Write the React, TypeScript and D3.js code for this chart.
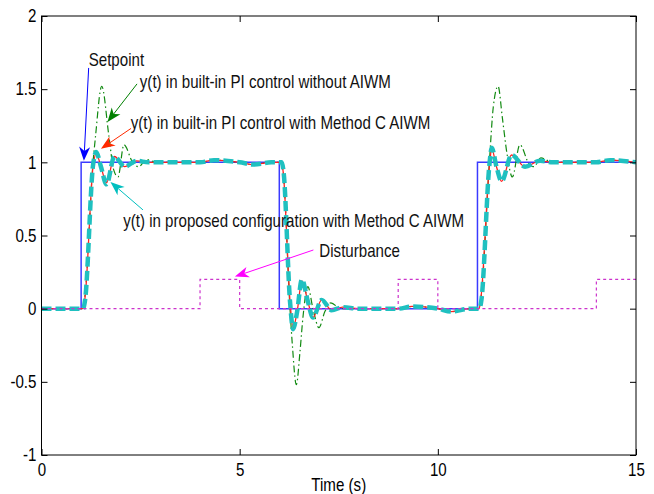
import { useEffect, useRef } from 'react'
import * as d3 from 'd3'

type Pt = [number, number]

// axis ticks
const xTicks = [0, 5, 10, 15]
const yTicks = [-1, -0.5, 0, 0.5, 1, 1.5, 2]
const yTickLabels = ['-1', '-0.5', '0', '0.5', '1', '1.5', '2']
const xLabel = 'Time (s)'

// reference and disturbance (step signals)
const setpoint: Pt[] = [[0, 0], [1, 0], [1, 1], [6, 1], [6, 0], [11, 0], [11, 1], [15, 1]]
const disturbance: Pt[] = [
  [0, 0], [4, 0], [4, 0.2], [5, 0.2], [5, 0], [9, 0], [9, 0.2], [10, 0.2], [10, 0],
  [14, 0], [14, 0.2], [15, 0.2],
]

// y(t), built-in PI without anti-windup
const yNoAiwm: Pt[] = [
  [0, 0], [1.04, 0], [1.1, 0.1], [1.3, 1.0], [1.36, 1.17], [1.52, 1.52], [1.7, 1.18], [1.82, 0.95],
  [1.93, 0.9], [2.08, 1.12], [2.3, 1.0], [2.45, 0.97], [2.65, 1.02], [2.9, 1.0], [4.0, 1.0],
  [4.35, 1.015], [5.0, 1.0], [5.35, 0.985], [5.8, 1.0], [6.04, 1.0], [6.1, 0.93], [6.27, 0.0],
  [6.33, -0.25], [6.43, -0.52], [6.52, -0.3], [6.6, -0.05], [6.72, 0.15], [6.85, 0.0], [7.0, -0.13],
  [7.15, -0.02], [7.3, 0.04], [7.55, 0.0], [8.0, 0], [9.0, 0], [9.35, 0.015], [10.0, 0],
  [10.35, -0.02], [10.8, 0], [11.04, 0], [11.1, 0.1], [11.3, 1.0], [11.4, 1.38], [11.52, 1.52],
  [11.63, 1.3], [11.75, 1.05], [11.88, 0.9], [12.07, 1.12], [12.3, 0.99], [12.42, 0.97],
  [12.6, 1.03], [12.9, 1.0], [14.0, 1.0], [14.35, 1.015], [15, 1.0],
]

// y(t), built-in PI with Method C AIWM
const yMethodC: Pt[] = [
  [0, 0], [1.05, 0], [1.1, 0.08], [1.3, 0.97], [1.38, 1.06], [1.5, 0.97], [1.64, 0.86], [1.84, 1.04],
  [2.1, 0.97], [2.4, 1.01], [2.7, 1.0], [4.0, 1.0], [4.35, 1.015], [5.0, 1.0], [5.35, 0.985],
  [5.8, 1.0], [6.05, 1.0], [6.1, 0.93], [6.27, 0.05], [6.35, -0.13], [6.45, -0.02], [6.57, 0.19],
  [6.72, 0.05], [6.85, -0.06], [7.07, 0.06], [7.32, -0.01], [7.6, 0.01], [8.0, 0], [9.0, 0],
  [9.35, 0.015], [10.0, 0], [10.35, -0.02], [10.8, 0], [11.04, 0], [11.09, 0.08], [11.3, 0.97],
  [11.36, 1.09], [11.48, 0.97], [11.61, 0.87], [11.86, 1.05], [12.2, 0.97], [12.58, 1.01],
  [12.9, 1.0], [14.0, 1.0], [14.35, 1.015], [15, 1.0],
]

// y(t), proposed configuration with Method C AIWM
const yProposed: Pt[] = [
  [0, 0], [1.05, 0], [1.1, 0.06], [1.3, 0.98], [1.38, 1.07], [1.5, 0.97], [1.64, 0.85], [1.84, 1.04],
  [2.1, 0.97], [2.4, 1.01], [2.7, 1.0], [4.0, 1.0], [4.35, 1.015], [5.0, 1.0], [5.35, 0.985],
  [5.8, 1.0], [6.06, 1.0], [6.11, 0.93], [6.27, 0.05], [6.35, -0.14], [6.45, -0.02], [6.57, 0.2],
  [6.72, 0.05], [6.85, -0.06], [7.07, 0.06], [7.32, -0.01], [7.6, 0.01], [8.0, 0], [9.0, 0],
  [9.35, 0.015], [10.0, 0], [10.35, -0.02], [10.8, 0], [11.05, 0], [11.1, 0.06], [11.3, 0.98],
  [11.36, 1.1], [11.48, 0.97], [11.61, 0.87], [11.86, 1.05], [12.2, 0.97], [12.58, 1.01],
  [12.9, 1.0], [14.0, 1.0], [14.35, 1.015], [15, 1.0],
]

// annotation text, anchored in data units; arrow from -> to
const annotations = [
  { text: 'Setpoint', color: '#0000ff', at: [1.19, 1.655], from: [1.19, 1.645], to: [1.07, 1.01] },
  { text: 'y(t) in built-in PI control without AIWM', color: '#008000', at: [2.48, 1.51], from: [2.41, 1.536], to: [1.665, 1.276] },
  { text: 'y(t) in built-in PI control with Method C AIWM', color: '#ff2a00', at: [2.25, 1.23], from: [2.26, 1.232], to: [1.5, 1.092] },
  { text: 'y(t) in proposed configuration with Method C AIWM', color: '#00bfbf', at: [2.06, 0.558], from: [2.56, 0.675], to: [1.74, 0.866] },
  { text: 'Disturbance', color: '#ff00ff', at: [7.01, 0.35], from: [6.86, 0.401], to: [4.88, 0.219] },
]

const FONT = '"Liberation Sans", Arial, sans-serif'
const SX = 0.84

const App = () => {
  const svgRef = useRef<SVGSVGElement | null>(null)

  useEffect(() => {
    if (!svgRef.current) return
    const svg = d3.select(svgRef.current)
    svg.selectAll('*').remove()

    const left = 41.5
    const right = 636
    const top = 16
    const bottom = 455

    const x = d3.scaleLinear().domain([0, 15]).range([left, right])
    const y = d3.scaleLinear().domain([-1, 2]).range([bottom, top])

    svg.append('rect').attr('width', 654).attr('height', 494).attr('fill', '#fff')

    svg.append('clipPath').attr('id', 'plot-clip')
      .append('rect')
      .attr('x', left).attr('y', top)
      .attr('width', right - left).attr('height', bottom - top)

    const straight = d3.line<Pt>().x((d) => x(d[0])).y((d) => y(d[1]))
    const smooth = d3.line<Pt>().x((d) => x(d[0])).y((d) => y(d[1])).curve(d3.curveMonotoneX)

    const plot = svg.append('g').attr('clip-path', 'url(#plot-clip)')

    plot.append('path').datum(setpoint)
      .attr('d', straight).attr('fill', 'none')
      .attr('stroke', '#3a3aff').attr('stroke-width', 1.5)

    plot.append('path').datum(yNoAiwm)
      .attr('d', smooth).attr('fill', 'none')
      .attr('stroke', '#118a11').attr('stroke-width', 1.2)
      .attr('stroke-dasharray', '7,3,1.5,3')

    plot.append('path').datum(yMethodC)
      .attr('d', smooth).attr('fill', 'none')
      .attr('stroke', '#ff2020').attr('stroke-width', 1.3)

    plot.append('path').datum(yProposed)
      .attr('d', smooth).attr('fill', 'none')
      .attr('stroke', '#1fc0c0').attr('stroke-width', 4.5)
      .attr('stroke-dasharray', '10,4')

    plot.append('path').datum(disturbance)
      .attr('d', straight).attr('fill', 'none')
      .attr('stroke', '#cc33cc').attr('stroke-width', 1.2)
      .attr('stroke-dasharray', '3,3')

    // axes, ticks pointing inward on all four sides
    const styleAxis = (g: d3.Selection<SVGGElement, unknown, null, undefined>) => {
      g.select('.domain').remove()
      g.selectAll('line').attr('stroke', '#000')
      g.selectAll('text')
        .attr('font-family', FONT).attr('font-size', 18).attr('fill', '#000')
        .attr('transform', `scale(${SX},1)`)
    }

    svg.append('g').attr('transform', `translate(0,${bottom})`)
      .call(d3.axisBottom(x).tickValues(xTicks).tickSize(-6).tickPadding(8).tickFormat(d3.format('d')))
      .call(styleAxis)
    svg.append('g').attr('transform', `translate(0,${top})`)
      .call(d3.axisTop(x).tickValues(xTicks).tickSize(-6).tickFormat(() => ''))
      .call(styleAxis)
    svg.append('g').attr('transform', `translate(${left},0)`)
      .call(d3.axisLeft(y).tickValues(yTicks).tickSize(-6).tickPadding(6)
        .tickFormat((_, i) => yTickLabels[i]))
      .call(styleAxis)
    svg.append('g').attr('transform', `translate(${right},0)`)
      .call(d3.axisRight(y).tickValues(yTicks).tickSize(-6).tickFormat(() => ''))
      .call(styleAxis)

    svg.append('rect')
      .attr('x', left).attr('y', top)
      .attr('width', right - left).attr('height', bottom - top)
      .attr('fill', 'none').attr('stroke', '#000').attr('stroke-width', 1)

    svg.append('text')
      .attr('transform', `translate(${(left + right) / 2},491) scale(${SX},1)`)
      .attr('text-anchor', 'middle')
      .attr('font-family', FONT).attr('font-size', 18).attr('fill', '#000')
      .text(xLabel)

    // annotations with filled arrow heads
    annotations.forEach((a) => {
      const x1 = x(a.from[0]), y1 = y(a.from[1])
      const x2 = x(a.to[0]), y2 = y(a.to[1])
      const len = Math.hypot(x2 - x1, y2 - y1)
      const ux = (x2 - x1) / len, uy = (y2 - y1) / len
      const nx = -uy, ny = ux
      const L = 14, Wd = 5.5, notch = 4
      const bx = x2 - ux * L, by = y2 - uy * L

      svg.append('line')
        .attr('x1', x1).attr('y1', y1)
        .attr('x2', x2 - ux * (L - notch)).attr('y2', y2 - uy * (L - notch))
        .attr('stroke', a.color).attr('stroke-width', 1)

      svg.append('path')
        .attr('d', `M${x2},${y2}L${bx + nx * Wd},${by + ny * Wd}L${x2 - ux * (L - notch)},${y2 - uy * (L - notch)}L${bx - nx * Wd},${by - ny * Wd}Z`)
        .attr('fill', a.color)

      svg.append('text')
        .attr('transform', `translate(${x(a.at[0])},${y(a.at[1])}) scale(${SX},1)`)
        .attr('font-family', FONT).attr('font-size', 18).attr('fill', '#111')
        .text(a.text)
    })
  }, [])

  return (
    <svg
      ref={svgRef}
      width={654}
      height={494}
      style={{ position: 'absolute', left: 0, top: 0, display: 'block' }}
    />
  )
}

export default App
